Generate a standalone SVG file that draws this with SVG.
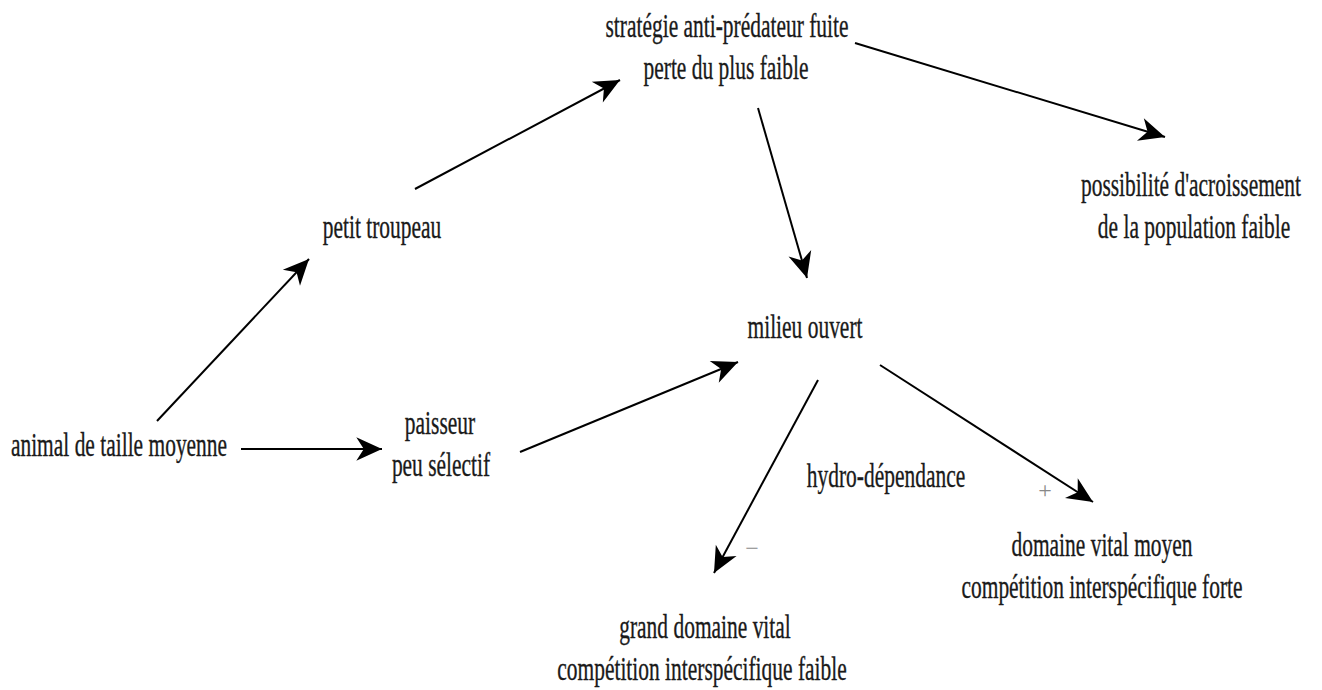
<svg xmlns="http://www.w3.org/2000/svg" width="1322" height="690" viewBox="0 0 1322 690">
<defs>
<style>
text{font-family:"Liberation Serif","Times New Roman",serif;font-size:33px;fill:#1a1a1a;stroke:#1a1a1a;stroke-width:0.35;text-anchor:middle}
.c{stroke:#000;stroke-width:2;fill:none}
.sign{font-size:24px;fill:#888;stroke:none}
</style>
<marker id="ah" markerUnits="userSpaceOnUse" markerWidth="30" markerHeight="30" viewBox="-26 -13 28 26" refX="0" refY="0" orient="auto">
<path d="M0,0 L-24,-11 L-17,0 L-24,11 Z" fill="#000"/>
</marker>
</defs>
<rect width="1322" height="690" fill="#fff"/>
<g id="connectors">
<line class="c" x1="157" y1="421" x2="309" y2="259" marker-end="url(#ah)"/>
<line class="c" x1="415" y1="189" x2="620" y2="80" marker-end="url(#ah)"/>
<line class="c" x1="855" y1="43" x2="1165" y2="137" marker-end="url(#ah)"/>
<line class="c" x1="758" y1="108" x2="807" y2="278" marker-end="url(#ah)"/>
<line class="c" x1="241" y1="449" x2="382" y2="449" marker-end="url(#ah)"/>
<line class="c" x1="520" y1="452" x2="738" y2="362" marker-end="url(#ah)"/>
<line class="c" x1="818" y1="380" x2="714" y2="573" marker-end="url(#ah)"/>
<line class="c" x1="880" y1="365" x2="1093" y2="502" marker-end="url(#ah)"/>
</g>
<g id="strategie">
<text transform="translate(727,37) scale(0.65,1)">stratégie anti-prédateur fuite</text>
<text transform="translate(726,79) scale(0.65,1)">perte du plus faible</text>
</g>
<g id="petit-troupeau">
<text transform="translate(382,238) scale(0.65,1)">petit troupeau</text>
</g>
<g id="possibilite">
<text transform="translate(1191,196) scale(0.65,1)">possibilité d'acroissement</text>
<text transform="translate(1194,238) scale(0.65,1)">de la population faible</text>
</g>
<g id="milieu-ouvert">
<text transform="translate(805,338) scale(0.65,1)">milieu ouvert</text>
</g>
<g id="animal">
<text transform="translate(119,456) scale(0.65,1)">animal de taille moyenne</text>
</g>
<g id="paisseur">
<text transform="translate(440,434) scale(0.65,1)">paisseur</text>
<text transform="translate(441,476) scale(0.65,1)">peu sélectif</text>
</g>
<g id="hydro">
<text transform="translate(886,487) scale(0.65,1)">hydro-dépendance</text>
</g>
<g id="signs">
<text class="sign" x="1045" y="498">+</text>
<text class="sign" x="752" y="556">−</text>
</g>
<g id="grand-domaine">
<text transform="translate(705,638) scale(0.65,1)">grand domaine vital</text>
<text transform="translate(702,680) scale(0.65,1)">compétition interspécifique faible</text>
</g>
<g id="domaine-moyen">
<text transform="translate(1102,556) scale(0.65,1)">domaine vital moyen</text>
<text transform="translate(1102,598) scale(0.65,1)">compétition interspécifique forte</text>
</g>
</svg>
